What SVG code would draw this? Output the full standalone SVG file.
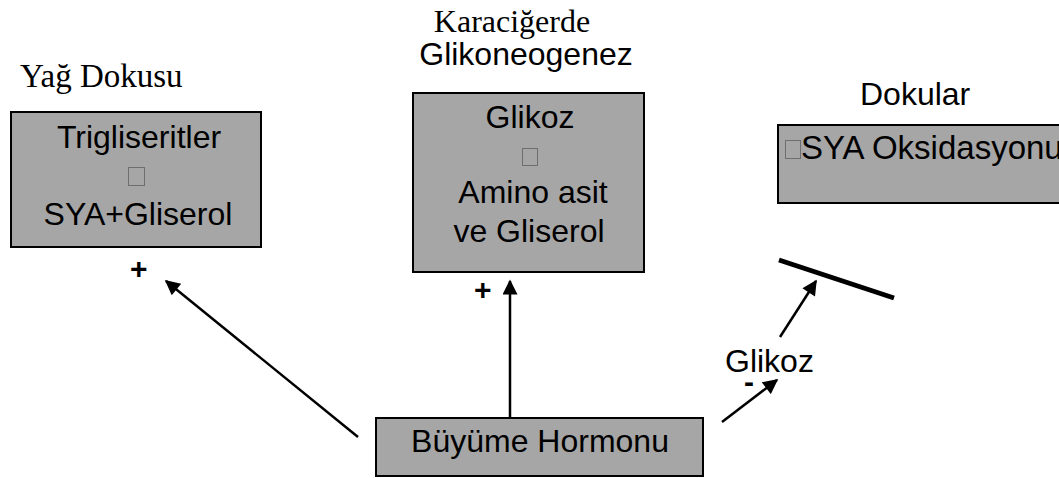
<svg xmlns="http://www.w3.org/2000/svg" width="1059" height="478" viewBox="0 0 1059 478">
  <style>
    .box { fill: #a6a6a6; stroke: #000; stroke-width: 2; }
    .sans { font-family: "Liberation Sans", Arial, sans-serif; font-size: 32px; fill: #000; }
    .serif { font-family: "Liberation Serif", "Times New Roman", serif; font-size: 32px; fill: #000; }
    .mid { text-anchor: middle; }
    .sign { font-family: "Liberation Sans", Arial, sans-serif; font-size: 30px; font-weight: bold; fill: #000; }
    .tofu { fill: none; stroke: #6e6e6e; stroke-width: 1; }
    .arrow { stroke: #000; stroke-width: 2.5; fill: none; marker-end: url(#head); }
  </style>
  <defs>
    <marker id="head" viewBox="0 0 10 10" refX="9" refY="5" markerWidth="7" markerHeight="6" markerUnits="strokeWidth" orient="auto">
      <path d="M0,0 L10,5 L0,10 Z" fill="#000"/>
    </marker>
  </defs>
  <rect width="1059" height="478" fill="#fff"/>

  <!-- adipose tissue -->
  <g id="yag-dokusu">
    <text class="serif" x="20" y="87" style="font-size:33px">Yağ Dokusu</text>
    <rect class="box" x="11" y="112" width="250" height="135"/>
    <text class="sans mid" x="139" y="148">Trigliseritler</text>
    <rect class="tofu" x="128.5" y="167.5" width="16" height="18"/>
    <text class="sans mid" x="138" y="225">SYA+Gliserol</text>
    <text class="sign" x="130" y="279">+</text>
  </g>

  <!-- liver gluconeogenesis -->
  <g id="karaciger">
    <text class="serif mid" x="512" y="32">Karaciğerde</text>
    <text class="sans mid" x="526" y="65">Glikoneogenez</text>
    <rect class="box" x="413" y="93" width="231" height="179"/>
    <text class="sans mid" x="530" y="128">Glikoz</text>
    <rect class="tofu" x="522.5" y="148.5" width="15" height="17"/>
    <text class="sans mid" x="533" y="203">Amino asit</text>
    <text class="sans mid" x="529" y="242">ve Gliserol</text>
    <text class="sign" x="474" y="300">+</text>
  </g>

  <!-- tissues -->
  <g id="dokular">
    <text class="sans" x="860" y="105">Dokular</text>
    <rect class="box" x="778" y="125" width="290" height="78"/>
    <rect class="tofu" x="785.5" y="140.5" width="15" height="18"/>
    <text class="sans" x="801" y="159" style="font-size:33px">SYA Oksidasyonu</text>
  </g>

  <!-- growth hormone -->
  <g id="buyume-hormonu">
    <rect class="box" x="376" y="418" width="327" height="58"/>
    <text class="sans mid" x="540" y="452">Büyüme Hormonu</text>
  </g>

  <!-- connectors -->
  <g id="connectors">
    <line class="arrow" x1="358" y1="437" x2="166" y2="281"/>
    <line class="arrow" x1="510" y1="418" x2="510" y2="281"/>
    <line class="arrow" x1="722" y1="422" x2="777" y2="380"/>
    <line class="arrow" x1="780" y1="337" x2="816" y2="281"/>
    <line x1="779" y1="260" x2="894" y2="298" stroke="#000" stroke-width="5"/>
    <text class="sans" x="725" y="372">Glikoz</text>
    <text class="sign" x="744" y="392">-</text>
  </g>
</svg>
